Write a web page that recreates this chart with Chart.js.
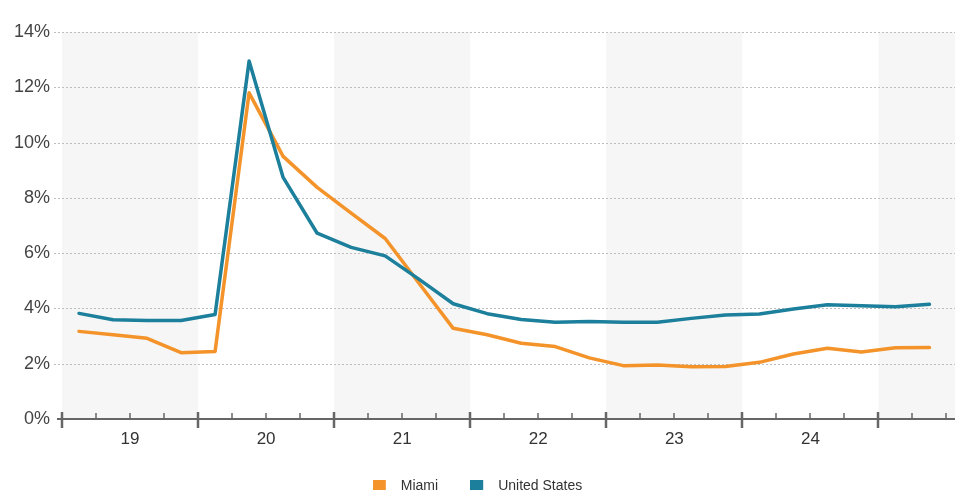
<!DOCTYPE html>
<html>
<head>
<meta charset="utf-8">
<script src="https://cdn.jsdelivr.net/npm/chart.js@4.4.1/dist/chart.umd.min.js"></script>
<style>
  html, body { margin: 0; padding: 0; background: #fff; overflow: hidden; }
  #wrap { position: relative; width: 962px; height: 503px; }
</style>
</head>
<body>
<div id="wrap"><canvas id="c"></canvas></div>
<script>
// Quarterly unemployment rate, 2019 Q1 – 2025 Q2
const quarters = [
  '2019 Q1','2019 Q2','2019 Q3','2019 Q4',
  '2020 Q1','2020 Q2','2020 Q3','2020 Q4',
  '2021 Q1','2021 Q2','2021 Q3','2021 Q4',
  '2022 Q1','2022 Q2','2022 Q3','2022 Q4',
  '2023 Q1','2023 Q2','2023 Q3','2023 Q4',
  '2024 Q1','2024 Q2','2024 Q3','2024 Q4',
  '2025 Q1','2025 Q2'
];
const miami = [
  3.17, 3.05, 2.92, 2.40,
  2.44, 11.80, 9.50, 8.38,
  7.45, 6.53, 4.90, 3.28,
  3.05, 2.74, 2.62, 2.21,
  1.93, 1.95, 1.89, 1.90,
  2.05, 2.35, 2.56, 2.42,
  2.58, 2.59
];
const unitedStates = [
  3.82, 3.59, 3.56, 3.56,
  3.78, 12.95, 8.74, 6.72,
  6.21, 5.90, 5.05, 4.17,
  3.81, 3.60, 3.50, 3.53,
  3.50, 3.50, 3.64, 3.76,
  3.80, 3.98, 4.13, 4.10,
  4.06, 4.15
];
const yearLabels = ['19', '20', '21', '22', '23', '24'];
const seriesNames = ['Miami', 'United States'];
const yTicks = [0, 2, 4, 6, 8, 10, 12, 14];

const ORANGE = '#f3932a';
const BLUE = '#1c7f9b';
const FONT = 'Liberation Sans, Arial, sans-serif';

// x is measured in quarters from the start of 2019; each point sits mid-quarter
const toPoints = arr => arr.map((v, i) => ({ x: i + 0.5, y: v }));
const X_MAX = 26.25;

// legend swatch: a square on the left of a slightly wider tile
function swatch(color) {
  const c = document.createElement('canvas');
  c.width = 21; c.height = 13;
  const g = c.getContext('2d');
  g.fillStyle = color;
  g.fillRect(0, 0, 13, 13);
  return c;
}

// alternating year bands, tick marks and the baseline
const yearFrame = {
  id: 'yearFrame',
  beforeDatasetsDraw(chart) {
    const { ctx, chartArea: a, scales: { x, y } } = chart;
    ctx.save();
    ctx.fillStyle = '#f6f6f6';
    for (let q = 0; q < X_MAX; q += 8) {
      const l = x.getPixelForValue(q);
      const r = x.getPixelForValue(Math.min(q + 4, X_MAX));
      ctx.fillRect(l, a.top, r - l, a.bottom - a.top);
    }
    ctx.strokeStyle = '#bdbdbd';
    ctx.lineWidth = 1;
    ctx.setLineDash([2, 2]);
    yTicks.forEach(t => {
      if (t === 0) return;
      const py = Math.round(y.getPixelForValue(t)) + 0.5;
      ctx.beginPath();
      ctx.moveTo(a.left - 8, py);
      ctx.lineTo(a.right, py);
      ctx.stroke();
    });
    ctx.restore();
  },
  afterDatasetsDraw(chart) {
    const { ctx, chartArea: a, scales: { x } } = chart;
    const base = a.bottom;
    ctx.save();
    ctx.strokeStyle = '#666';
    ctx.lineWidth = 2;
    ctx.beginPath();
    ctx.moveTo(x.getPixelForValue(0) - 5, base);
    ctx.lineTo(a.right, base);
    ctx.stroke();
    for (let q = 0; q <= Math.floor(X_MAX); q++) {
      const px = Math.round(x.getPixelForValue(q));
      ctx.beginPath();
      if (q % 4 === 0) {
        ctx.lineWidth = 2.5;
        ctx.moveTo(px, base - 7);
        ctx.lineTo(px, base + 9);
      } else {
        ctx.lineWidth = 1.5;
        ctx.moveTo(px, base - 6);
        ctx.lineTo(px, base);
      }
      ctx.stroke();
    }
    ctx.restore();
  }
};

new Chart(document.getElementById('c'), {
  type: 'line',
  data: {
    datasets: [
      {
        label: seriesNames[0],
        data: toPoints(miami),
        borderColor: ORANGE,
        backgroundColor: ORANGE,
        pointStyle: swatch(ORANGE),
        borderWidth: 3.5,
        pointRadius: 0,
        tension: 0,
        borderCapStyle: 'round',
        borderJoinStyle: 'round',
        order: 1
      },
      {
        label: seriesNames[1],
        data: toPoints(unitedStates),
        borderColor: BLUE,
        backgroundColor: BLUE,
        pointStyle: swatch(BLUE),
        borderWidth: 3.5,
        pointRadius: 0,
        tension: 0,
        borderCapStyle: 'round',
        borderJoinStyle: 'round',
        order: 0
      }
    ]
  },
  options: {
    responsive: true,
    maintainAspectRatio: false,
    animation: false,
    layout: { padding: { left: 0, right: 7, top: 32, bottom: 0 } },
    plugins: {
      tooltip: { enabled: false },
      legend: {
        position: 'bottom',
        labels: {
          usePointStyle: true,
          pointStyleWidth: 21,
          boxHeight: 13,
          padding: 32,
          color: '#333',
          font: { family: FONT, size: 14 },
          sort: (a, b) => a.datasetIndex - b.datasetIndex
        }
      }
    },
    scales: {
      x: {
        type: 'linear',
        min: 0,
        max: X_MAX,
        grid: { display: false, drawTicks: false },
        border: { display: false },
        afterBuildTicks(scale) {
          scale.ticks = yearLabels.map((_, i) => ({ value: i * 4 + 2 }));
        },
        ticks: {
          autoSkip: false,
          maxRotation: 0,
          padding: 10,
          color: '#333',
          font: { family: FONT, size: 17 },
          callback: (v) => yearLabels[(v - 2) / 4]
        },
        afterFit(scale) { scale.height = 28; }
      },
      y: {
        min: 0,
        max: 14,
        grid: { display: false, drawTicks: false },
        border: { display: false },
        afterBuildTicks(scale) {
          scale.ticks = yTicks.map(v => ({ value: v }));
        },
        ticks: {
          padding: 12,
          color: '#444',
          font: { family: FONT, size: 18 },
          callback: (v) => v + '%'
        },
        afterFit(scale) { scale.width = 62; }
      }
    }
  },
  plugins: [yearFrame]
});
</script>
</body>
</html>
